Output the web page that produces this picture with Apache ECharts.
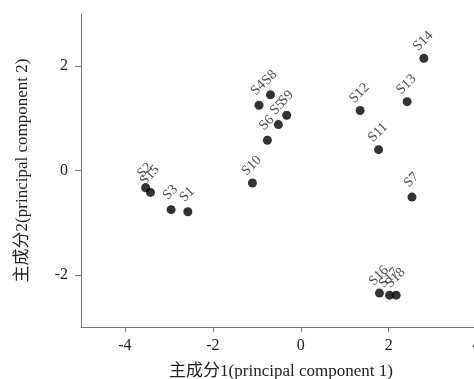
<!DOCTYPE html>
<html>
<head>
<meta charset="utf-8">
<script src="https://cdn.jsdelivr.net/npm/echarts@6/dist/echarts.min.js"></script>
<style>
html, body { margin: 0; padding: 0; background: #fff; }
#chart { width: 474px; height: 379px; }
</style>
</head>
<body>
<div id="chart"></div>
<script>
// 样本名称与主成分得分
var names = ['S1', 'S2', 'S3', 'S4', 'S5', 'S6', 'S7', 'S8', 'S9', 'S10',
    'S11', 'S12', 'S13', 'S14', 'S15', 'S16', 'S17', 'S18'];
var pc1 = [-2.57, -3.53, -2.95, -0.95, -0.51, -0.76, 2.53, -0.69, -0.32, -1.10,
    1.77, 1.35, 2.42, 2.80, -3.42, 1.79, 2.02, 2.17];
var pc2 = [-0.79, -0.33, -0.75, 1.25, 0.88, 0.58, -0.51, 1.45, 1.06, -0.24,
    0.40, 1.15, 1.32, 2.15, -0.42, -2.35, -2.39, -2.39];
var xTicks = [-4, -2, 0, 2, 4];
var yTicks = [-2, 0, 2];

var font = '"Liberation Serif", "Noto Sans CJK SC", serif';
var points = [];
for (var i = 0; i < names.length; i++) {
    points.push({ name: names[i], value: [pc1[i], pc2[i]] });
}

var myChart = echarts.init(document.getElementById('chart'));
var option = {
    animation: false,
    grid: {
        left: 81,
        top: 14,
        width: 400,
        height: 313,
        outerBoundsMode: 'none'
    },
    xAxis: {
        type: 'value',
        min: -5,
        max: 4.1,
        name: '主成分1(principal component 1)',
        nameLocation: 'middle',
        nameGap: 36,
        nameTextStyle: { fontFamily: font, fontSize: 17, color: '#222' },
        splitLine: { show: false },
        axisLine: { show: true, onZero: false, lineStyle: { color: '#777' } },
        axisTick: { show: true, customValues: xTicks, length: 5, lineStyle: { color: '#777' } },
        axisLabel: { customValues: xTicks, fontFamily: font, fontSize: 16, color: '#222', margin: 11 }
    },
    yAxis: {
        type: 'value',
        min: -3,
        max: 3,
        name: '主成分2(principal component 2)',
        nameLocation: 'middle',
        nameGap: 50,
        nameTextStyle: { fontFamily: font, fontSize: 17, color: '#222' },
        splitLine: { show: false },
        axisLine: { show: true, onZero: false, lineStyle: { color: '#777' } },
        axisTick: { show: true, customValues: yTicks, length: 6, lineStyle: { color: '#777' } },
        axisLabel: { customValues: yTicks, fontFamily: font, fontSize: 16, color: '#222', margin: 13 }
    },
    series: [{
        type: 'scatter',
        symbolSize: 9,
        itemStyle: { color: '#000' },
        label: {
            show: true,
            position: 'top',
            distance: 5,
            offset: [5, 1],
            rotate: 45,
            formatter: '{b}',
            fontFamily: font,
            fontSize: 14,
            color: '#222'
        },
        data: points
    }]
};
myChart.setOption(option);
</script>
</body>
</html>
